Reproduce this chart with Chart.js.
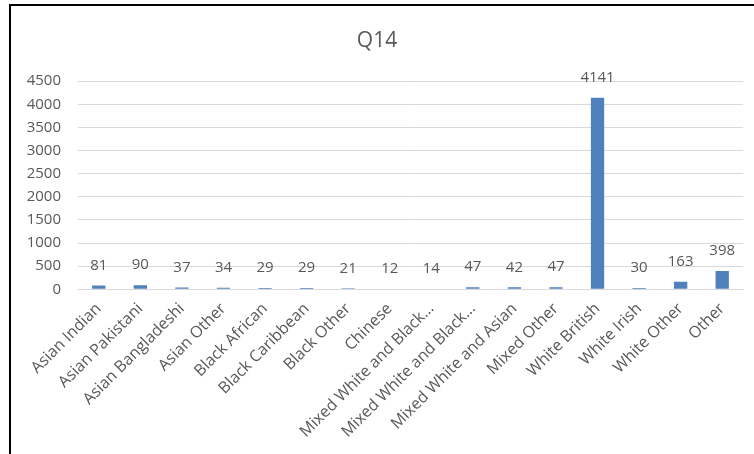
<!DOCTYPE html>
<html>
<head>
<meta charset="utf-8">
<script src="https://cdn.jsdelivr.net/npm/chart.js@4.4.1/dist/chart.umd.min.js"></script>
<style>
  html, body { margin: 0; padding: 0; background: #fff; }
  #frame {
    position: absolute; left: 9px; top: 4px;
    width: 745px; height: 450px;
    border-top: 2px solid #000; border-left: 2px solid #000;
    box-sizing: border-box;
  }
  #wrap { position: absolute; left: 0; top: 0; width: 743px; height: 448px; }
</style>
</head>
<body>
<div id="frame"><div id="wrap"><canvas id="c"></canvas></div></div>
<script>
const titleText = "Q14";
const categories = [
  "Asian Indian", "Asian Pakistani", "Asian Bangladeshi", "Asian Other",
  "Black African", "Black Caribbean", "Black Other", "Chinese",
  "Mixed White and Black\u2026", "Mixed White and Black\u2026", "Mixed White and Asian", "Mixed Other",
  "White British", "White Irish", "White Other", "Other"
];
const values = [81, 90, 37, 34, 29, 29, 21, 12, 14, 47, 42, 47, 4141, 30, 163, 398];
const yTicks = [0, 500, 1000, 1500, 2000, 2500, 3000, 3500, 4000, 4500];

const textColor = "#595959";
const fontFamily = "'Open Sans', 'Liberation Sans', sans-serif";

const valueLabels = {
  id: "valueLabels",
  afterDatasetsDraw(chart) {
    const ctx = chart.ctx;
    const meta = chart.getDatasetMeta(0);
    ctx.save();
    ctx.fillStyle = textColor;
    ctx.font = "15px " + fontFamily;
    ctx.textAlign = "center";
    ctx.textBaseline = "middle";
    meta.data.forEach((bar, i) => {
      ctx.fillText(String(values[i]), bar.x, bar.y - 20);
    });
    ctx.restore();
  }
};

new Chart(document.getElementById("c"), {
  type: "bar",
  data: {
    labels: categories,
    datasets: [{
      data: values,
      backgroundColor: "#4f81bd",
      borderWidth: 0,
      barPercentage: 0.32,
      categoryPercentage: 1.0
    }]
  },
  options: {
    responsive: true,
    maintainAspectRatio: false,
    animation: false,
    layout: { padding: { left: 0, right: 11, top: 0, bottom: 0 } },
    plugins: {
      legend: { display: false },
      tooltip: { enabled: false },
      title: {
        display: true,
        text: titleText,
        color: textColor,
        font: { family: fontFamily, size: 21, weight: "normal" },
        padding: { top: 22, bottom: 28 }
      }
    },
    scales: {
      x: {
        grid: { display: false },
        border: { display: true, color: "#d9d9d9", width: 1 },
        ticks: {
          autoSkip: false,
          minRotation: 45,
          maxRotation: 45,
          padding: 2,
          color: textColor,
          font: { family: fontFamily, size: 16 }
        },
        afterFit(scale) { scale.height = 164.7; }
      },
      y: {
        min: 0,
        max: 4500,
        afterBuildTicks(scale) { scale.ticks = yTicks.map(v => ({ value: v })); },
        grid: { color: "#d9d9d9", drawTicks: false },
        border: { display: false },
        ticks: {
          padding: 17,
          color: textColor,
          font: { family: fontFamily, size: 15 },
          callback: (v) => String(v)
        },
        afterFit(scale) { scale.width = 67; }
      }
    }
  },
  plugins: [valueLabels]
});
</script>
</body>
</html>
